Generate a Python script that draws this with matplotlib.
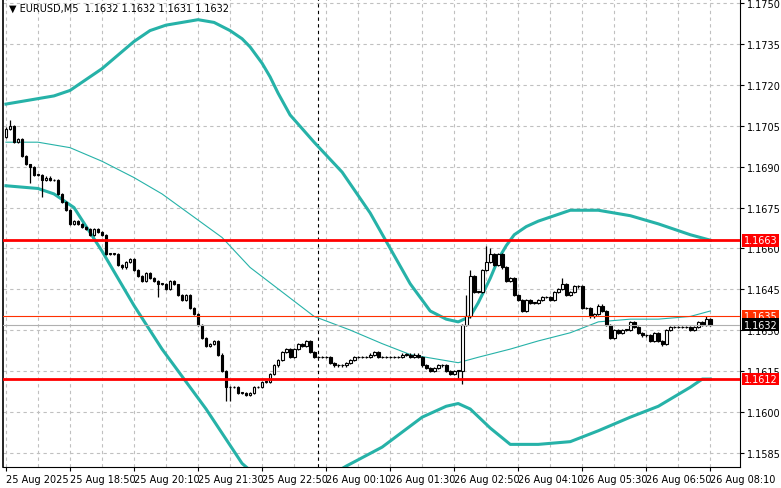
import numpy as np
import matplotlib.pyplot as plt

# EURUSD M5, 25 Aug 17:30 .. 26 Aug 08:10 (one value per bar)
closes = [
    1.1704, 1.1705, 1.1699, 1.1700, 1.1694, 1.1691, 1.1690, 1.1687, 1.1687, 1.1685,
    1.1686, 1.1685, 1.1685, 1.1680, 1.1677, 1.1674, 1.1669, 1.1670, 1.1669, 1.1668,
    1.1667, 1.1665, 1.1667, 1.1666, 1.1665, 1.1658, 1.1658, 1.1658, 1.1654, 1.1653,
    1.1655, 1.1656, 1.1652, 1.1650, 1.1648, 1.1651, 1.1649, 1.1648, 1.1647, 1.1647,
    1.1645, 1.1648, 1.1647, 1.1643, 1.1641, 1.1643, 1.1638, 1.1636, 1.1632, 1.1627,
    1.1624, 1.1625, 1.1626, 1.1621, 1.1615, 1.1609, 1.1609, 1.1609, 1.1607, 1.1607,
    1.1606, 1.1607, 1.1609, 1.1609, 1.1611, 1.1611, 1.1614, 1.1617, 1.1619, 1.1622,
    1.1623, 1.1620, 1.1623, 1.1625, 1.1624, 1.1626, 1.1622, 1.1620, 1.1620, 1.1620,
    1.1620, 1.1618, 1.1617, 1.1617, 1.1617, 1.1618, 1.1619, 1.1620, 1.1620, 1.1620,
    1.1620, 1.1621, 1.1622, 1.1620, 1.1620, 1.1620, 1.1620, 1.1620, 1.1620, 1.1621,
    1.1621, 1.1620, 1.1621, 1.1620, 1.1617, 1.1616, 1.1615, 1.1616, 1.1617, 1.1617,
    1.1615, 1.1614, 1.1615, 1.1615, 1.1632, 1.1635, 1.1650, 1.1644, 1.1644, 1.1652,
    1.1655, 1.1658, 1.1654, 1.1658, 1.1653, 1.1648, 1.1649, 1.1643, 1.1641, 1.1637,
    1.1641, 1.1640, 1.1640, 1.1641, 1.1642, 1.1642, 1.1641, 1.1644, 1.1645, 1.1647,
    1.1643, 1.1644, 1.1646, 1.1646, 1.1638, 1.1638, 1.1635, 1.1636, 1.1639, 1.1637,
    1.1632, 1.1627, 1.1630, 1.1629, 1.1630, 1.1630, 1.1633, 1.1631, 1.1629, 1.1628,
    1.1628, 1.1626, 1.1629, 1.1626, 1.1625, 1.1630, 1.1631, 1.1631, 1.1631, 1.1631,
    1.1631, 1.1630, 1.1631, 1.1633, 1.1632, 1.1634, 1.1632,
]
first_open = 1.1701
# bars whose wicks reach visibly beyond the body
extra_high = {1: 1.1707, 6: 1.1691, 43: 1.1646, 115: 1.1643, 116: 1.1652,
              120: 1.1661, 121: 1.1660, 139: 1.1649, 175: 1.1635}
extra_low = {6: 1.1684, 9: 1.1679, 38: 1.1642, 55: 1.1604, 56: 1.1604,
             114: 1.1610, 113: 1.1612, 164: 1.1624}

# indicator lines read at sampled bars
upper_idx = [0, 8, 12, 16, 20, 24, 28, 32, 36, 40, 44, 48, 52, 56, 59, 61, 64, 66, 68,
             71, 77, 84, 91, 96, 101, 106, 110, 113, 116, 118, 121, 123, 125, 127, 130,
             133, 141, 148, 156, 163, 171, 176]
upper_val = [1.1713, 1.1715, 1.1716, 1.1718, 1.1722, 1.1726, 1.1731, 1.1736, 1.1740,
             1.1742, 1.1743, 1.1744, 1.1743, 1.1740, 1.1737, 1.1734, 1.1728, 1.1723,
             1.1717, 1.1709, 1.1699, 1.1688, 1.1673, 1.1660, 1.1647, 1.1637, 1.1634,
             1.1633, 1.1635, 1.1640, 1.1649, 1.1656, 1.1661, 1.1665, 1.1668, 1.1670,
             1.1674, 1.1674, 1.1672, 1.1669, 1.1665, 1.1663]
lower_idx = [0, 8, 12, 17, 24, 32, 39, 45, 50, 59, 70, 85, 94, 104, 110, 113, 116, 121,
             126, 133, 141, 148, 156, 163, 171, 174, 176]
lower_val = [1.1683, 1.1682, 1.1680, 1.1675, 1.1659, 1.1639, 1.1623, 1.1611, 1.1601,
             1.1581, 1.1567, 1.1580, 1.1587, 1.1598, 1.1602, 1.1603, 1.1601, 1.1594,
             1.1588, 1.1588, 1.1589, 1.1593, 1.1598, 1.1602, 1.1609, 1.1612, 1.1612]
mid_idx = [0, 8, 16, 24, 32, 39, 54, 61, 69, 77, 86, 94, 101, 109, 113, 118, 126, 133,
           141, 148, 156, 163, 171, 176]
mid_val = [1.1699, 1.1699, 1.1697, 1.1692, 1.1686, 1.1680, 1.1664, 1.1653, 1.1644,
           1.1635, 1.1630, 1.1625, 1.1621, 1.1619, 1.1618, 1.1620, 1.1623, 1.1626,
           1.1629, 1.1633, 1.1634, 1.1634, 1.1635, 1.1637]

levels = [1.1663, 1.1612]
ask_price = 1.1635
bid_price = 1.1632
price_ticks = [1.1750, 1.1735, 1.1720, 1.1705, 1.1690, 1.1675, 1.1660, 1.1645,
               1.1630, 1.1615, 1.1600, 1.1585]
time_labels = ["25 Aug 2025", "25 Aug 18:50", "25 Aug 20:10", "25 Aug 21:30",
               "25 Aug 22:50", "26 Aug 00:10", "26 Aug 01:30", "26 Aug 02:50",
               "26 Aug 04:10", "26 Aug 05:30", "26 Aug 06:50", "26 Aug 08:10"]

n = len(closes)
x = np.arange(n)
c = np.array(closes)
o = np.concatenate([[first_open], c[:-1]])
hi = np.maximum(o, c) + 0.00004
lo = np.minimum(o, c) - 0.00004
for k, v in extra_high.items():
    hi[k] = v
for k, v in extra_low.items():
    lo[k] = v

fig = plt.figure(figsize=(7.81, 4.89), dpi=100)
ax = fig.add_axes([0.004, 0.043, 0.944, 0.957])
ymin, ymax = 1.15797, 1.17516
xmin, xmax = -0.7, 183.5
ax.set_xlim(xmin, xmax)
ax.set_ylim(ymin, ymax)

# grid
for t in price_ticks:
    ax.axhline(t, color='#c0c0c0', lw=0.8, ls=(0, (3, 3)), zorder=0)
for gx in range(0, n + 8, 8):
    ax.axvline(gx, color='#c0c0c0', lw=0.8, ls=(0, (3, 3)), zorder=0)
ax.axvline(78, color='black', lw=0.8, ls=(0, (3, 3)), zorder=1)

# indicators
teal = '#26b2a8'
ax.plot(upper_idx, upper_val, color=teal, lw=2.2, zorder=2)
ax.plot(lower_idx, lower_val, color=teal, lw=2.2, zorder=2)
ax.plot(mid_idx, mid_val, color=teal, lw=0.8, zorder=2)

# candles
ax.vlines(x, lo, hi, color='black', lw=0.9, zorder=3)
up = c >= o
body = np.maximum(np.abs(c - o), 0.00002)
ax.bar(x[up], body[up], bottom=o[up], width=0.7, color='white',
       edgecolor='black', lw=0.8, zorder=4)
ax.bar(x[~up], body[~up], bottom=c[~up], width=0.7, color='black',
       edgecolor='black', lw=0.8, zorder=4)

# levels
for lv in levels:
    ax.axhline(lv, color='#ff0000', lw=2.0, zorder=5)
ax.axhline(ask_price, color='#ff3000', lw=0.8, zorder=5)
ax.axhline(bid_price, color='#b0b0b0', lw=0.8, zorder=5)

# axes styling
ax.spines['top'].set_visible(False)
ax.spines['left'].set_linewidth(1.2)
ax.yaxis.tick_right()
ax.set_yticks(price_ticks)
ax.set_yticklabels(["{:.4f}".format(t) for t in price_ticks], fontsize=7)
ax.tick_params(axis='y', length=3, pad=2)
ax.set_xticks(range(0, n, 16))
ax.set_xticklabels(time_labels, fontsize=7, ha='left')
ax.tick_params(axis='x', length=3, pad=2)

# right-side price labels
def price_box(val, face, txt_color):
    ax.text(xmax + 0.8, val, "{:.4f}".format(val), fontsize=7, color=txt_color,
            va='center', ha='left', zorder=10, clip_on=False,
            bbox=dict(boxstyle='square,pad=0.15', fc=face, ec='none'))

for lv in levels:
    price_box(lv, '#ff0000', 'white')
price_box(ask_price, '#ff3000', 'white')
price_box(bid_price, 'black', 'white')

ax.text(0.008, 0.992, "\u25BC EURUSD,M5  1.1632 1.1632 1.1631 1.1632",
        transform=ax.transAxes, fontsize=7, va='top', ha='left')

fig.savefig("out.png", dpi=100)
